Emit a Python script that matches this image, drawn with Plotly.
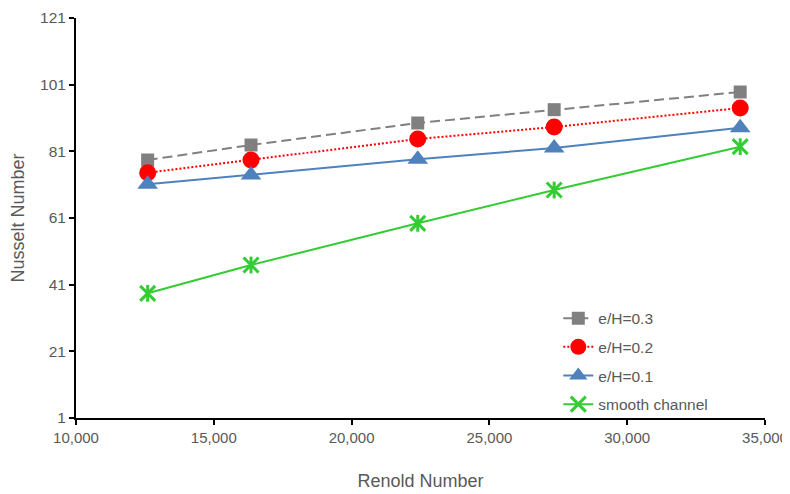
import plotly.graph_objects as go

reynolds = [12600, 16350, 22400, 27350, 34100]
nu_03 = [78.4, 82.9, 89.5, 93.5, 98.8]
nu_02 = [74.6, 78.4, 84.7, 88.3, 94.0]
nu_01 = [71.1, 73.9, 78.6, 82.0, 88.1]
nu_smooth = [38.4, 46.9, 59.4, 69.4, 82.4]

y_ticks = [1, 21, 41, 61, 81, 101, 121]
x_ticks = [10000, 15000, 20000, 25000, 30000, 35000]
x_tick_labels = ["10,000", "15,000", "20,000", "25,000", "30,000", "35,000"]

GRAY = "#808080"
RED = "#ff0000"
BLUE = "#4f81bd"
GREEN = "#33cc33"
TEXT = "#595959"
FONT = "Liberation Sans, Arial, sans-serif"

fig = go.Figure()
fig.add_trace(go.Scatter(x=reynolds, y=nu_03, name="e/H=0.3", mode="lines+markers",
                         legendgroup="g3",
                         line=dict(color=GRAY, width=2, dash="10px,5px"),
                         marker=dict(symbol="square", size=13, color=GRAY)))
fig.add_trace(go.Scatter(x=reynolds, y=nu_02, name="e/H=0.2", mode="lines+markers",
                         legendgroup="g2",
                         line=dict(color=RED, width=2, dash="2px,2px"),
                         marker=dict(symbol="circle", size=17, color=RED)))
fig.add_trace(go.Scatter(x=reynolds, y=nu_01, name="e/H=0.1", mode="lines+markers",
                         legendgroup="g1",
                         line=dict(color=BLUE, width=2),
                         marker=dict(symbol="triangle-up", size=18, color=BLUE)))
fig.add_trace(go.Scatter(x=reynolds, y=nu_smooth, name="smooth channel", mode="lines+markers",
                         legendgroup="g0",
                         line=dict(color=GREEN, width=2),
                         marker=dict(symbol="x-thin-open", size=15, color=GREEN,
                                     line=dict(color=GREEN, width=3))))
fig.add_trace(go.Scatter(x=reynolds, y=nu_smooth, name="smooth channel", mode="markers",
                         legendgroup="g0", showlegend=False, hoverinfo="skip",
                         marker=dict(symbol="line-ns-open", size=12, color=GREEN,
                                     line=dict(color=GREEN, width=3))))

# page body has an 8px default margin, so the figure is offset by 8px
fig.update_layout(
    width=782, height=486,
    margin=dict(l=68, r=25, t=10, b=76, autoexpand=False),
    paper_bgcolor="white", plot_bgcolor="white",
    font=dict(family=FONT, size=15, color=TEXT),
    showlegend=True,
    legend=dict(x=0.70, y=0.291, xanchor="left", yanchor="top",
                bgcolor="rgba(0,0,0,0)", font=dict(family=FONT, size=15.5, color=TEXT),
                tracegroupgap=5.5),
    xaxis=dict(range=[10000, 35000], tickvals=x_ticks, ticktext=x_tick_labels,
               tickfont=dict(family=FONT, size=15, color=TEXT), automargin=False,
               showgrid=False, zeroline=False, showline=True, linecolor="black", linewidth=2,
               ticks="outside", tickcolor="black", ticklen=5, tickwidth=2,
               title=dict(text="Renold Number", font=dict(family=FONT, size=18, color=TEXT),
                          standoff=29)),
    yaxis=dict(range=[1, 121], tickvals=y_ticks, automargin=False,
               tickfont=dict(family=FONT, size=15.5, color=TEXT),
               showgrid=False, zeroline=False, showline=True, linecolor="black", linewidth=2,
               ticks="outside", tickcolor="black", ticklen=5, tickwidth=2,
               title=dict(text="Nusselt Number", font=dict(family=FONT, size=18, color=TEXT),
                          standoff=12)),
)

fig.write_html("out.html")
